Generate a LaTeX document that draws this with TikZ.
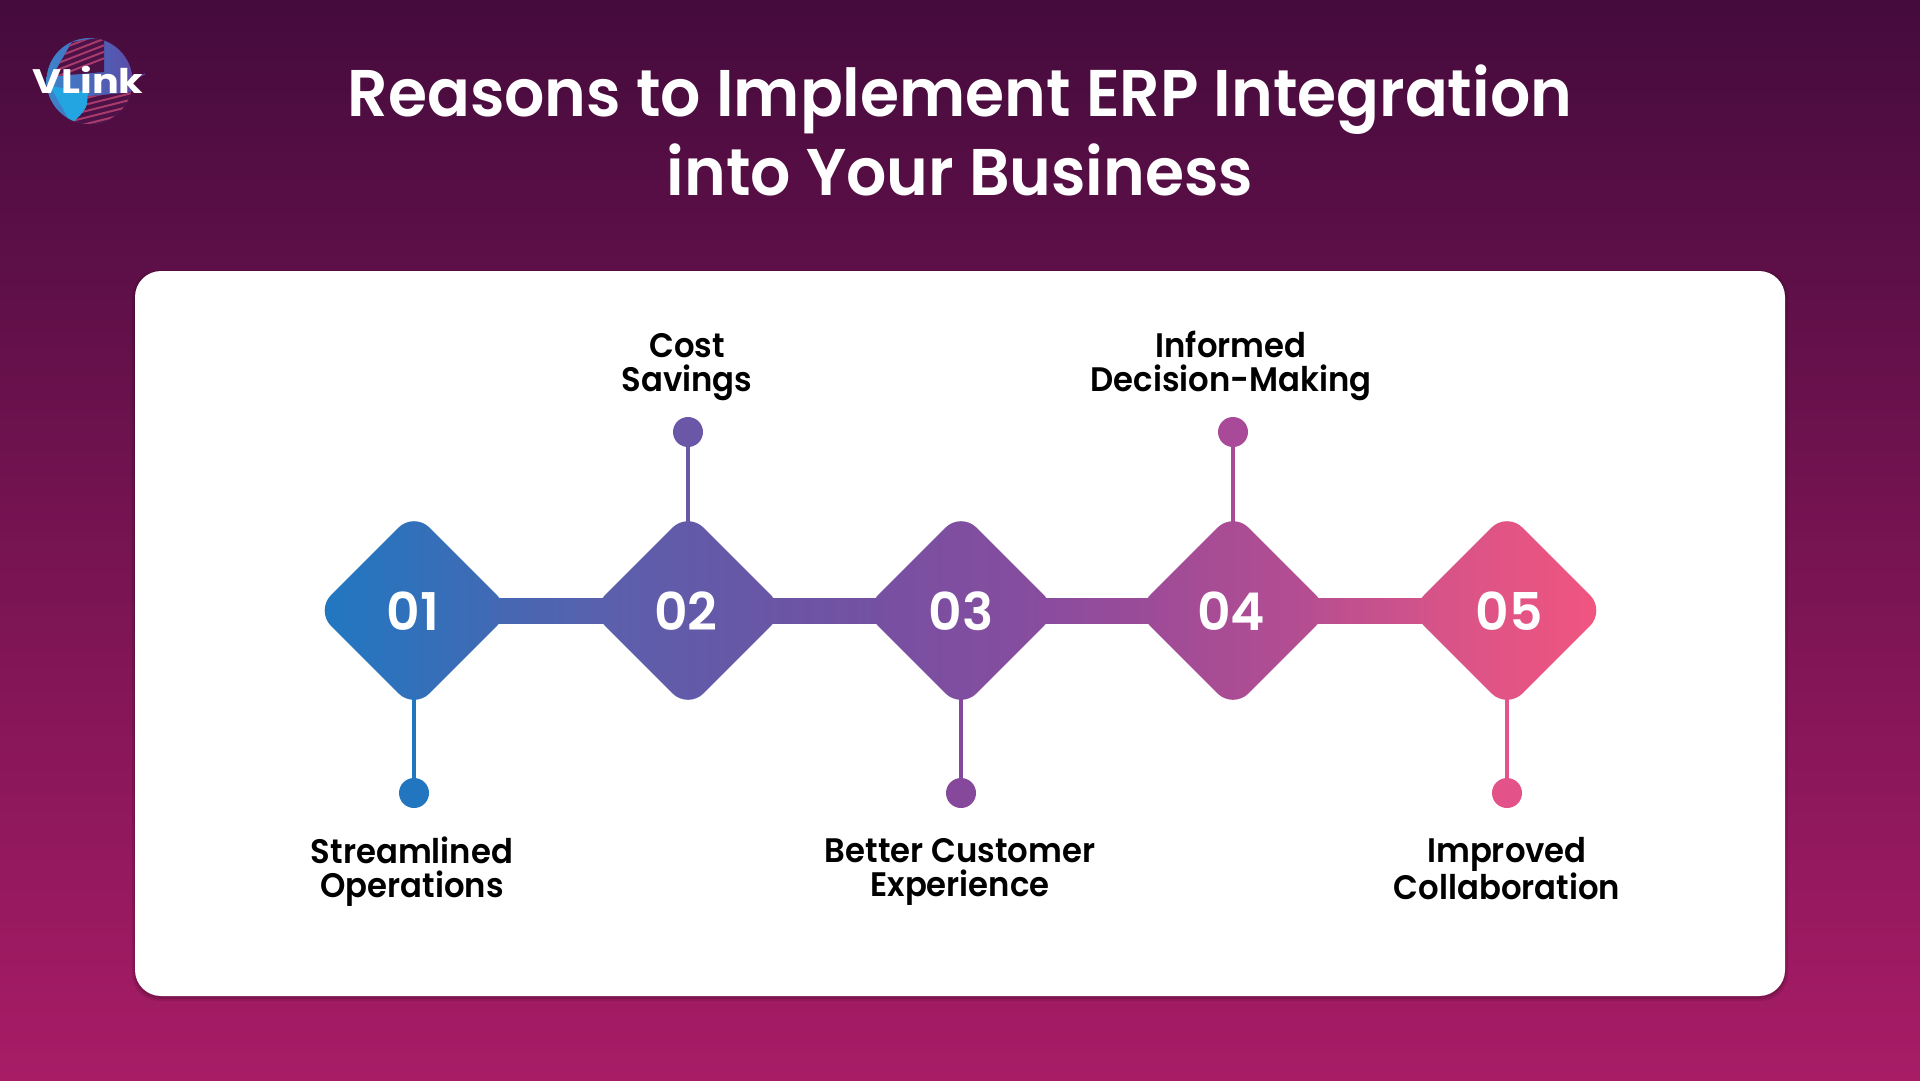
\documentclass[tikz,border=0pt]{standalone}
\usepackage{fontspec}
\usetikzlibrary{shapes.geometric,calc}
\newfontfamily\titlefont[UprightFont={* SemiBold},FakeStretch=0.958]{Poppins}
\newfontfamily\labelfont[UprightFont={* SemiBold},FakeStretch=0.95]{Poppins}
\newfontfamily\numfont[UprightFont={* SemiBold},FakeStretch=1.0]{Poppins}
\newfontfamily\logofont[UprightFont={* Bold},FakeStretch=1.17]{Poppins}
\definecolor{bgtop}{HTML}{450B3D}
\definecolor{bgbot}{HTML}{A81C66}
\definecolor{ca}{HTML}{1F78C1}\definecolor{cb}{HTML}{4468B3}
\definecolor{cc}{HTML}{5A60AD}\definecolor{cd}{HTML}{6A55A5}
\definecolor{ce}{HTML}{7550A2}\definecolor{cf}{HTML}{8A4C9E}
\definecolor{cg}{HTML}{9C4B98}\definecolor{ch}{HTML}{B84E90}
\definecolor{ci}{HTML}{D2538A}\definecolor{cj}{HTML}{F2557F}
\definecolor{da}{HTML}{2276BF}\definecolor{db}{HTML}{6A57A8}
\definecolor{dc}{HTML}{85489B}\definecolor{dd}{HTML}{A94A98}
\definecolor{de}{HTML}{E4528A}
\definecolor{gblue}{HTML}{3A86CC}\definecolor{gviolet}{HTML}{5C4AA8}
\definecolor{gland}{HTML}{22A5E0}\definecolor{gdark}{HTML}{4C1146}
\definecolor{gstripe}{HTML}{A83A6C}
\tikzset{
 dia/.style 2 args={shape=diamond,aspect=1,inner sep=0pt,minimum width=197pt,minimum height=197pt,
   rounded corners=22pt,left color=#1,right color=#2},
 numtxt/.style={text=white,font=\numfont\fontsize{52}{52}\selectfont},
 dotnode/.style={circle,inner sep=0pt,minimum size=30pt,fill=#1},
 lbl/.style={align=center,text=black,font=\labelfont\fontsize{34}{34}\selectfont,inner sep=0pt},
 ttl/.style={align=center,text=white,font=\titlefont\fontsize{66}{79}\selectfont,inner sep=0pt},
}
\begin{document}
\begin{tikzpicture}[x=1pt,y=-1pt]
\useasboundingbox (0,0) rectangle (1920,1080);
\shade[top color=bgtop,bottom color=bgbot] (0,0) rectangle (1920,1080);
% logo
\draw[gviolet,line width=1pt] (130,81) -- (145,74);
\begin{scope}
 \clip (89.5,81) circle (43);
 \shade[left color=gblue,right color=gviolet] (46,37) rectangle (133,125);
 \fill[gdark] (56,70) -- (72,42) -- (104,37) -- (104,72) -- (56,76) -- cycle;
 \fill[gdark] (70,98) -- (134,92) -- (134,126) -- (70,126) -- cycle;
 \begin{scope}
  \clip (56,70) -- (72,42) -- (104,37) -- (104,72) -- (56,76) -- cycle;
  \foreach \i in {0,...,7}
   \draw[line width=2pt,gstripe] (48,{80-\i*6.5}) -- (110,{56-\i*6.5});
 \end{scope}
 \begin{scope}
  \clip (70,98) -- (134,92) -- (134,126) -- (70,126) -- cycle;
  \foreach \i in {0,...,6}
   \draw[line width=2pt,gstripe] (70,{128-\i*6.5}) -- (134,{112-\i*6.5});
 \end{scope}
 \fill[gland] (50,86) -- (88,92) -- (87,104) .. controls (84,114) and (76,118) .. (72,124) .. controls (64,112) and (58,100) .. (50,86) -- cycle;
\end{scope}
\node[inner sep=0pt,text=white,font=\logofont\fontsize{34}{34}\selectfont] (logo) at (88,80) {VLink};
% title
\node[ttl] (title) at (960,130) {Reasons to Implement ERP Integration\\into Your Business};
% card
\foreach \o/\w in {0.12/1,0.10/3}
 \fill[black,opacity=\o,rounded corners=27pt] (135-\w,271-\w+2) rectangle (1785+\w,996+\w+2);
\node[draw=none,fill=white,rounded corners=26pt,inner sep=0pt,minimum width=1650pt,minimum height=725pt] (card) at (960,633.5) {};
% diamonds
\node[dia={ca}{cb}] (d1) at (414,610.5) {};
\node[dia={cc}{cd}] (d2) at (688,610.5) {};
\node[dia={ce}{cf}] (d3) at (961,610.5) {};
\node[dia={cg}{ch}] (d4) at (1233,610.5) {};
\node[dia={ci}{cj}] (d5) at (1507,610.5) {};
% bars
\shade[left color=cb,right color=cc] ($(d1.east)+(-20,-12.5)$) rectangle ($(d2.west)+(20,12.5)$);
\shade[left color=cd,right color=ce] ($(d2.east)+(-20,-12.5)$) rectangle ($(d3.west)+(20,12.5)$);
\shade[left color=cf,right color=cg] ($(d3.east)+(-20,-12.5)$) rectangle ($(d4.west)+(20,12.5)$);
\shade[left color=ch,right color=ci] ($(d4.east)+(-20,-12.5)$) rectangle ($(d5.west)+(20,12.5)$);
\node[numtxt] (n1) at (413,611) {01};
\node[numtxt] (n2) at (686,611) {02};
\node[numtxt] (n3) at (961,611) {03};
\node[numtxt] (n4) at (1231,611) {04};
\node[numtxt] (n5) at (1509,611) {05};
% dots
\node[dotnode=da] (p1) at (414,793) {};
\node[dotnode=db] (p2) at (688,432) {};
\node[dotnode=dc] (p3) at (961,793) {};
\node[dotnode=dd] (p4) at (1233,432) {};
\node[dotnode=de] (p5) at (1507,793) {};
\draw[da,line width=4.5pt] ($(d1.south)+(0,-11)$) -- (p1);
\draw[db,line width=4.5pt] ($(d2.north)+(0,11)$) -- (p2);
\draw[dc,line width=4.5pt] ($(d3.south)+(0,-11)$) -- (p3);
\draw[dd,line width=4.5pt] ($(d4.north)+(0,11)$) -- (p4);
\draw[de,line width=4.5pt] ($(d5.south)+(0,-11)$) -- (p5);
% labels
\node[lbl] (l1) at (412,871.5) {Streamlined\\Operations};
\node[lbl] (l2) at (687,367) {Cost\\Savings};
\node[lbl] (l3) at (960,871.5) {Better Customer\\Experience};
\node[lbl] (l4) at (1231,365.5) {Informed\\Decision-Making};
\node[lbl] (l5) at (1507,868.5) {Improved\\Collaboration};
\end{tikzpicture}
\end{document}
